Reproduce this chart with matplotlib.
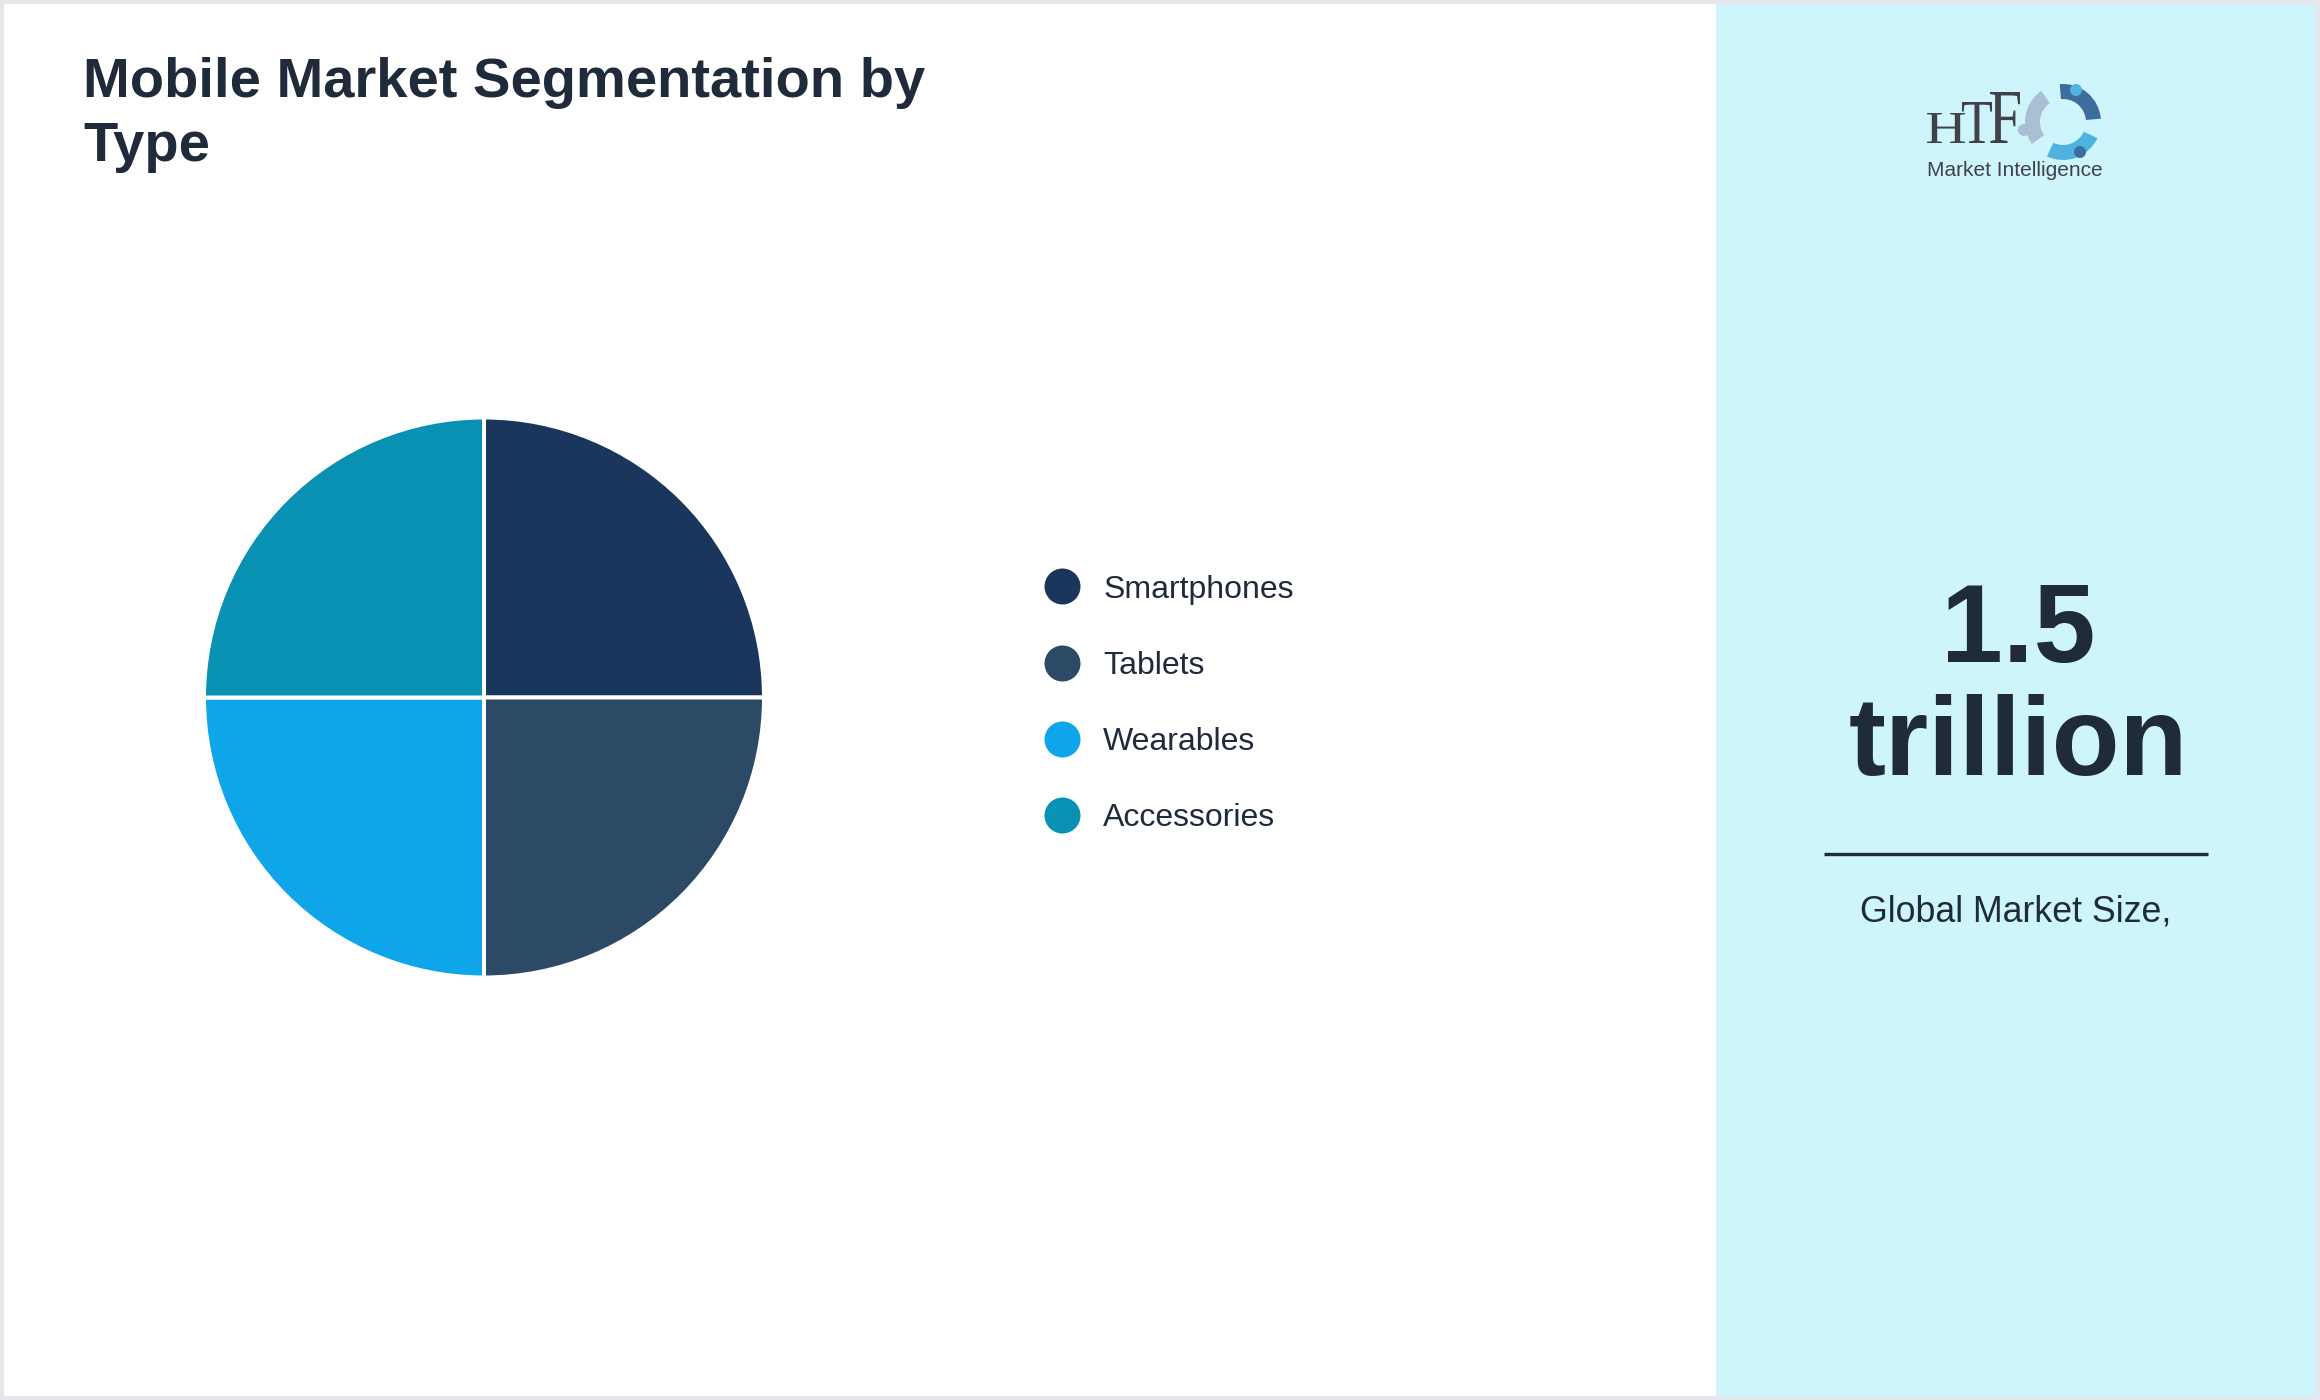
import matplotlib.pyplot as plt
from matplotlib.patches import Rectangle, Wedge, Circle, PathPatch
from matplotlib.lines import Line2D
from matplotlib.textpath import TextPath
from matplotlib.font_manager import FontProperties
from matplotlib.transforms import Affine2D

# data
segments = ["Smartphones", "Tablets", "Wearables", "Accessories"]
shares = [25, 25, 25, 25]
seg_colors = ["#1b365d", "#2c4a66", "#0ea5e9", "#0891b2"]
title_text = "Mobile Market Segmentation by\nType"
market_value = ["1.5", "trillion"]
market_caption = "Global Market Size,"

W, H = 2320, 1400
DPI = 200
TXT = "#1f2a3a"
plt.rcParams['font.family'] = ['Liberation Sans', 'DejaVu Sans']

fig = plt.figure(figsize=(W / DPI, H / DPI), dpi=DPI)

# background canvas in pixel coords (y down)
bg = fig.add_axes([0, 0, 1, 1])
bg.set_xlim(0, W)
bg.set_ylim(H, 0)
bg.axis('off')
bg.add_patch(Rectangle((0, 0), W, H, facecolor="#e5e7eb", edgecolor='none'))
bg.add_patch(Rectangle((4, 4), W - 8, H - 8, facecolor="white", edgecolor='none'))
bg.add_patch(Rectangle((1716, 4), W - 4 - 1716, H - 8, facecolor="#cff5fc", edgecolor='none'))

# title
bg.text(83, 57, title_text, fontsize=20.2, fontweight='bold', color=TXT,
        ha='left', va='top', linespacing=1.3)

# side panel
bg.text(2018, 662, market_value[0], fontsize=40, fontweight='bold', color=TXT,
        ha='center', va='baseline')
bg.text(2018, 775, market_value[1], fontsize=40, fontweight='bold', color=TXT,
        ha='center', va='baseline')
bg.plot([1824, 2208], [854, 854], color=TXT, lw=1.2, solid_capstyle='butt')
bg.text(2016, 921, market_caption, fontsize=12.9, color=TXT, ha='center', va='baseline')

# logo (rough)
fp = FontProperties(family='Liberation Serif')
for ch, x0, cap in [("H", 1927, 30), ("T", 1962, 41), ("F", 1990, 51)]:
    tp = TextPath((0, 0), ch, size=100, prop=fp)
    ext = tp.get_extents()
    sx = 38 / ext.width if ch == "H" else 30 / ext.width
    sy = cap / ext.height
    tr = Affine2D().translate(-ext.x0, 0).scale(sx, -sy).translate(x0, 143)
    bg.add_patch(PathPatch(tr.transform_path(tp), facecolor="#3f4348", edgecolor='none'))
bg.text(1927, 170, "Market Intelligence", fontsize=7.5, color="#3f4348",
        ha='left', va='center', family=['Liberation Sans Narrow', 'Liberation Sans'])
lc = (2063, 122)
bg.add_patch(Wedge(lc, 38, 25, 115, width=15, facecolor="#4fb3e0", edgecolor='none'))
bg.add_patch(Wedge(lc, 38, 145, 235, width=15, facecolor="#a9bfd3", edgecolor='none'))
bg.add_patch(Wedge(lc, 38, 265, 355, width=15, facecolor="#3b6e9c", edgecolor='none'))
bg.add_patch(Circle((2076, 90), 6, facecolor="#4fb3e0", edgecolor='none'))
bg.add_patch(Circle((2024, 130), 6, facecolor="#a9bfd3", edgecolor='none'))
bg.add_patch(Circle((2080, 152), 6, facecolor="#3b6e9c", edgecolor='none'))

# pie
cx, cy, r = 484, 697.5, 280
ax = fig.add_axes([(cx - r) / W, (H - cy - r) / H, 2 * r / W, 2 * r / H])
ax.pie(shares, colors=seg_colors, startangle=90, counterclock=False, radius=1,
       wedgeprops=dict(edgecolor='white', linewidth=1.44))
ax.set_xlim(-1, 1)
ax.set_ylim(-1, 1)
ax.set_aspect('equal')
ax.axis('off')

# legend
handles = [Line2D([], [], marker='o', linestyle='none', markersize=12.96,
                  markerfacecolor=c, markeredgecolor='none') for c in seg_colors]
fig.legend(handles, segments, loc='center left', bbox_to_anchor=(1043 / W, 1 - 704 / H),
           frameon=False, fontsize=11.5, labelcolor=TXT, handlelength=1.2,
           handletextpad=0.68, labelspacing=1.45, borderpad=0, borderaxespad=0)

fig.savefig("out.png", dpi=DPI)
